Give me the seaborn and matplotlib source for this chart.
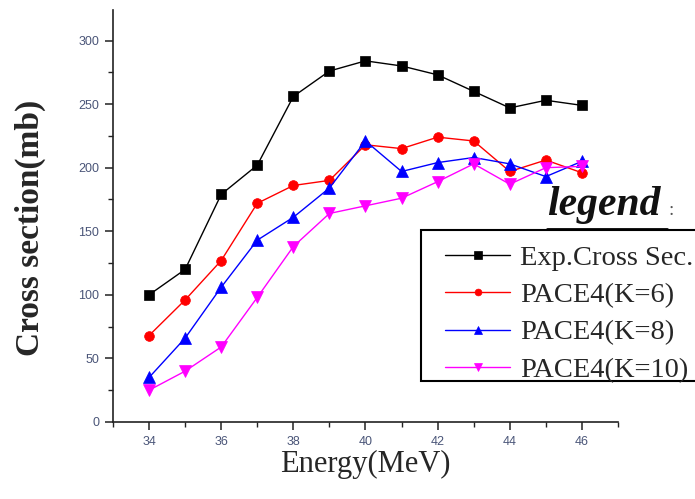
import matplotlib
matplotlib.use("Agg")
import matplotlib.pyplot as plt
import seaborn as sns
import numpy as np
import pandas as pd
from matplotlib.lines import Line2D
from matplotlib.patches import Rectangle
from matplotlib.ticker import MultipleLocator

energy = [34, 35, 36, 37, 38, 39, 40, 41, 42, 43, 44, 45, 46]
exp_cs = [100, 120, 179, 202, 256, 276, 284, 280, 273, 260, 247, 253, 249]
pace_k6 = [68, 96, 127, 172, 186, 190, 218, 215, 224, 221, 197, 206, 196]
pace_k8 = [35, 66, 106, 143, 161, 184, 221, 197, 204, 208, 203, 193, 205]
pace_k10 = [25, 40, 59, 98, 138, 164, 170, 176, 189, 203, 187, 200, 201]

series_names = ["Exp.Cross Sec.", "PACE4(K=6)", "PACE4(K=8)", "PACE4(K=10)"]
series_vals = [exp_cs, pace_k6, pace_k8, pace_k10]
colors = ["#000000", "#ff0000", "#0000ff", "#ff00ff"]
markers = ["s", "o", "^", "v"]
msizes = [7.5, 7, 8, 8]

sns.set_style("ticks")
plt.rcParams["font.family"] = ["Liberation Serif", "DejaVu Sans"]

fig = plt.figure(figsize=(6.95, 4.99), dpi=100)
ax = fig.add_axes([113/695, 1-422/499, (618-113)/695, (422-10)/499])

for name, vals, c, m, ms in zip(series_names, series_vals, colors, markers, msizes):
    sns.lineplot(x=energy, y=vals, ax=ax, color=c, marker=m, markersize=ms,
                 markeredgecolor=c, markeredgewidth=0.5, linewidth=1.0,
                 label=name)

ax.set_xlim(33, 47)
ax.set_ylim(0, 324)
ax.xaxis.set_major_locator(MultipleLocator(2))
ax.xaxis.set_minor_locator(MultipleLocator(1))
ax.yaxis.set_major_locator(MultipleLocator(50))
ax.yaxis.set_minor_locator(MultipleLocator(25))
sns.despine(ax=ax)
for sp in ["left", "bottom"]:
    ax.spines[sp].set_linewidth(1.2)
    ax.spines[sp].set_color("#222222")
ax.tick_params(axis="both", which="major", length=6, width=1.1, direction="out",
               color="#222222", labelsize=9, labelcolor="#4a5578", pad=4)
ax.tick_params(axis="both", which="minor", length=3.5, width=1.0, direction="out",
               color="#222222")
for lab in ax.get_xticklabels() + ax.get_yticklabels():
    lab.set_fontfamily("Liberation Sans")

ax.set_xlabel("Energy(MeV)", fontsize=22, family="Liberation Serif")
ax.set_ylabel("Cross section(mb)", fontsize=24, family="Liberation Serif",
              fontweight="bold")
ax.xaxis.set_label_coords(0.5, -(450-422)/412)
ax.yaxis.set_label_coords((46-113)/505, 0.47)

# legend frame (box runs past the right edge of the figure, as in the original)
frame = Rectangle((421/695, 1-381/499), (720-421)/695, (381-230)/499,
                  transform=fig.transFigure, facecolor="white",
                  edgecolor="black", linewidth=1.5, clip_on=False, zorder=4.9)
ax.add_patch(frame)

leg = ax.legend(loc="upper left", bbox_to_anchor=(445/695, 1-245/499),
                bbox_transform=fig.transFigure, frameon=False,
                borderaxespad=0, borderpad=0,
                prop={"family": "Liberation Serif", "size": 20.5},
                handlelength=2.3, handletextpad=0.35, labelspacing=0.4,
                markerscale=0.7)
leg.set_zorder(5)

fig.text(547/695, 1-215/499, "legend", fontsize=30, fontweight="bold",
         fontstyle="italic", family="Liberation Serif", ha="left",
         va="baseline", color="#111111")
fig.text(669/695, 1-215/499, ":", fontsize=14, family="Liberation Serif",
         ha="left", va="baseline", color="#555555")
fig.add_artist(Line2D([547/695, 667/695], [1-229/499, 1-229/499],
                      transform=fig.transFigure, color="black", linewidth=2))

fig.savefig("out.png", dpi=100)
